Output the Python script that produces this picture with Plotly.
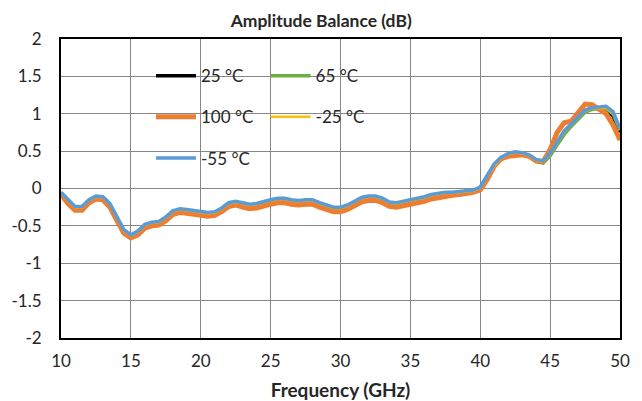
import plotly.graph_objects as go

freq = [10.0, 10.5, 11.0, 11.5, 12.0, 12.5, 13.0, 13.5, 14.0, 14.5,
        15.0, 15.5, 16.0, 16.5, 17.0, 17.5, 18.0, 18.5, 19.0, 19.5,
        20.0, 20.5, 21.0, 21.5, 22.0, 22.5, 23.0, 23.5, 24.0, 24.5,
        25.0, 25.5, 26.0, 26.5, 27.0, 27.5, 28.0, 28.5, 29.0, 29.5,
        30.0, 30.5, 31.0, 31.5, 32.0, 32.5, 33.0, 33.5, 34.0, 34.5,
        35.0, 35.5, 36.0, 36.5, 37.0, 37.5, 38.0, 38.5, 39.0, 39.5,
        40.0, 40.5, 41.0, 41.5, 42.0, 42.5, 43.0, 43.5, 44.0, 44.5,
        45.0, 45.5, 46.0, 46.5, 47.0, 47.5, 48.0, 48.5, 49.0, 49.5,
        50.0]

t25 = [-0.06, -0.17, -0.26, -0.26, -0.17, -0.12, -0.13, -0.22, -0.40, -0.57,
       -0.63, -0.59, -0.50, -0.47, -0.46, -0.40, -0.32, -0.29, -0.30, -0.31,
       -0.32, -0.34, -0.33, -0.28, -0.21, -0.19, -0.21, -0.23, -0.22, -0.19,
       -0.17, -0.15, -0.15, -0.17, -0.18, -0.17, -0.17, -0.21, -0.24, -0.27,
       -0.27, -0.24, -0.19, -0.14, -0.12, -0.12, -0.15, -0.20, -0.21, -0.19,
       -0.17, -0.16, -0.13, -0.10, -0.08, -0.07, -0.06, -0.05, -0.04, -0.03,
       0.01, 0.16, 0.31, 0.40, 0.45, 0.47, 0.46, 0.43, 0.37, 0.35,
       0.45, 0.60, 0.75, 0.84, 0.93, 1.03, 1.07, 1.08, 1.07, 0.97,
       0.75]

t65 = [-0.07, -0.18, -0.27, -0.27, -0.18, -0.13, -0.14, -0.23, -0.41, -0.58,
       -0.64, -0.60, -0.51, -0.48, -0.46, -0.41, -0.33, -0.30, -0.31, -0.32,
       -0.33, -0.35, -0.34, -0.29, -0.22, -0.20, -0.22, -0.24, -0.23, -0.20,
       -0.18, -0.16, -0.16, -0.18, -0.19, -0.18, -0.18, -0.22, -0.25, -0.28,
       -0.28, -0.25, -0.20, -0.15, -0.13, -0.13, -0.16, -0.21, -0.22, -0.20,
       -0.18, -0.17, -0.14, -0.11, -0.09, -0.08, -0.07, -0.06, -0.05, -0.04,
       0.00, 0.14, 0.29, 0.39, 0.44, 0.46, 0.46, 0.43, 0.36, 0.34,
       0.44, 0.58, 0.72, 0.83, 0.92, 1.02, 1.06, 1.07, 1.07, 1.00,
       0.78]

t100 = [-0.08, -0.20, -0.29, -0.29, -0.19, -0.14, -0.15, -0.25, -0.43, -0.60,
        -0.66, -0.62, -0.53, -0.50, -0.49, -0.43, -0.35, -0.32, -0.33, -0.34,
        -0.35, -0.37, -0.36, -0.31, -0.24, -0.22, -0.25, -0.27, -0.26, -0.23,
        -0.21, -0.19, -0.19, -0.21, -0.22, -0.21, -0.21, -0.25, -0.28, -0.31,
        -0.31, -0.28, -0.23, -0.18, -0.16, -0.16, -0.19, -0.24, -0.25, -0.23,
        -0.21, -0.20, -0.17, -0.14, -0.12, -0.10, -0.09, -0.08, -0.07, -0.05,
        -0.02, 0.12, 0.30, 0.40, 0.43, 0.44, 0.45, 0.43, 0.37, 0.36,
        0.52, 0.75, 0.88, 0.90, 1.02, 1.13, 1.12, 1.05, 1.00, 0.85,
        0.65]

tm25 = [-0.06, -0.16, -0.25, -0.25, -0.16, -0.11, -0.12, -0.21, -0.39, -0.56,
        -0.63, -0.58, -0.49, -0.46, -0.45, -0.39, -0.31, -0.28, -0.29, -0.30,
        -0.31, -0.33, -0.32, -0.27, -0.20, -0.18, -0.20, -0.22, -0.21, -0.18,
        -0.16, -0.14, -0.14, -0.16, -0.17, -0.16, -0.16, -0.20, -0.23, -0.26,
        -0.26, -0.23, -0.18, -0.13, -0.11, -0.11, -0.14, -0.19, -0.20, -0.18,
        -0.16, -0.15, -0.12, -0.09, -0.07, -0.06, -0.06, -0.05, -0.04, -0.03,
        0.01, 0.16, 0.31, 0.41, 0.46, 0.48, 0.47, 0.44, 0.38, 0.36,
        0.46, 0.61, 0.76, 0.85, 0.94, 1.04, 1.07, 1.08, 1.08, 1.01,
        0.79]

tm55 = [-0.05, -0.15, -0.24, -0.24, -0.15, -0.10, -0.11, -0.20, -0.38, -0.55,
        -0.62, -0.57, -0.48, -0.45, -0.44, -0.38, -0.30, -0.27, -0.28, -0.29,
        -0.30, -0.32, -0.31, -0.26, -0.19, -0.17, -0.19, -0.21, -0.20, -0.17,
        -0.15, -0.13, -0.13, -0.15, -0.16, -0.15, -0.15, -0.19, -0.22, -0.25,
        -0.25, -0.22, -0.17, -0.12, -0.10, -0.10, -0.13, -0.18, -0.19, -0.17,
        -0.15, -0.14, -0.11, -0.08, -0.06, -0.05, -0.05, -0.04, -0.03, -0.02,
        0.02, 0.18, 0.33, 0.42, 0.47, 0.49, 0.48, 0.45, 0.39, 0.37,
        0.47, 0.62, 0.77, 0.86, 0.95, 1.05, 1.08, 1.09, 1.10, 1.03,
        0.80]

x_ticks = [10, 15, 20, 25, 30, 35, 40, 45, 50]
x_ticktext = ["10", "15", "20", "25", "30", "35", "40", "45", "50"]
y_ticks = [-2, -1.5, -1, -0.5, 0, 0.5, 1, 1.5, 2]
y_ticktext = ["-2", "-1.5", "-1", "-0.5", "0", "0.5", "1", "1.5", "2"]

FONT = "Lato, Carlito, Calibri, sans-serif"

series = [
    ("25 °C", t25, "#000000", 3.5, "legend"),
    ("65 °C", t65, "#70AD47", 3.5, "legend2"),
    ("100 °C", t100, "#ED7D31", 5, "legend"),
    ("-25 °C", tm25, "#FFC000", 2.5, "legend2"),
    ("-55 °C", tm55, "#5B9BD5", 3.5, "legend"),
]

fig = go.Figure()
for name, vals, color, w, lg in series:
    fig.add_trace(go.Scatter(
        x=freq, y=vals, name=name, mode="lines",
        line=dict(color=color, width=w),
        legend=lg, legendgroup=name,
    ))

# white panel behind the legend entries (hides gridlines as in the original)
fig.add_shape(type="rect", xref="paper", yref="paper",
              x0=0.159, x1=0.562, y0=0.578, y1=0.913,
              fillcolor="white", line=dict(width=0), layer="between")

legend_common = dict(bgcolor="rgba(0,0,0,0)", borderwidth=0,
                     font=dict(family=FONT, size=17, color="#262626"),
                     tracegroupgap=16, itemwidth=40,
                     yanchor="top", xanchor="left", orientation="v")

# the page body adds an 8px offset, so the figure is sized to fit the window
fig.update_layout(
    width=634, height=393,
    margin=dict(l=53, r=22, t=31, b=63, autoexpand=False),
    paper_bgcolor="white", plot_bgcolor="white",
    font=dict(family=FONT, color="#262626"),
    title=dict(text="<b>Amplitude Balance (dB)</b>", x=0.494, xref="container",
               xanchor="center", y=0.967, yanchor="middle",
               font=dict(family=FONT, size=17.5, color="#262626")),
    legend=dict(x=0.161, y=0.936, **legend_common),
    legend2=dict(x=0.366, y=0.936, **legend_common),
    xaxis=dict(range=[10, 50], tickvals=x_ticks, ticktext=x_ticktext,
               automargin=False,
               showgrid=True, gridcolor="#878787", gridwidth=1,
               showline=True, linecolor="black", linewidth=2, mirror=True,
               zeroline=False, ticks="", ticklabelstandoff=7,
               tickfont=dict(family=FONT, size=17, color="#262626"),
               title=dict(text="<b>Frequency (GHz)</b>", standoff=13,
                          font=dict(family=FONT, size=19, color="#262626"))),
    yaxis=dict(range=[-2, 2], tickvals=y_ticks, ticktext=y_ticktext,
               automargin=False,
               showgrid=True, gridcolor="#878787", gridwidth=1,
               showline=True, linecolor="black", linewidth=2, mirror=True,
               zeroline=False, ticks="", ticklabelstandoff=14,
               tickfont=dict(family=FONT, size=17, color="#262626")),
    showlegend=True,
)

fig.write_html("out.html")
